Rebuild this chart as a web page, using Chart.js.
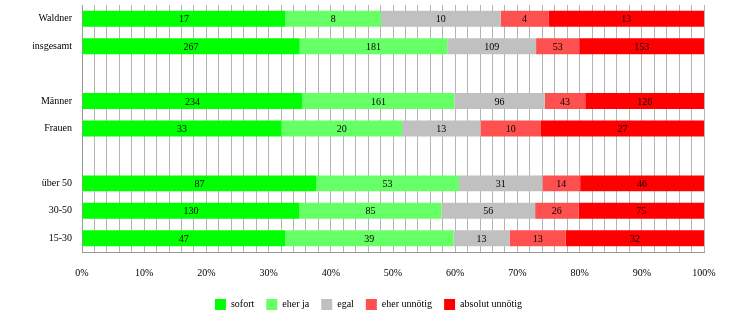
<!DOCTYPE html>
<html>
<head>
<meta charset="utf-8">
<script src="https://cdn.jsdelivr.net/npm/chart.js@4/dist/chart.umd.min.js"></script>
<style>
  html, body { margin: 0; padding: 0; background: #fff; }
  #wrap { width: 733px; height: 335px; }
</style>
</head>
<body>
<div id="wrap"><canvas id="chart"></canvas></div>
<script>
// rows (empty strings are the spacer rows)
const categories = ['Waldner', 'insgesamt', '', 'Männer', 'Frauen', '', 'über 50', '30-50', '15-30'];

// answer counts per row
const sofort          = [17, 267, null, 234, 33, null, 87, 130, 47];
const eherJa          = [8, 181, null, 161, 20, null, 53, 85, 39];
const egal            = [10, 109, null, 96, 13, null, 31, 56, 13];
const eherUnnoetig    = [4, 53, null, 43, 10, null, 14, 26, 13];
const absolutUnnoetig = [13, 153, null, 126, 27, null, 46, 75, 32];

const seriesNames  = ['sofort', 'eher ja', 'egal', 'eher unnötig', 'absolut unnötig'];
const seriesColors = ['#00ff00', '#66ff66', '#c0c0c0', '#ff5050', '#ff0000'];
const series = [sofort, eherJa, egal, eherUnnoetig, absolutUnnoetig];

const FONT = "'Liberation Serif', 'Times New Roman', serif";

// row totals -> percentages for the 100% stack
const totals = categories.map((_, i) => series.reduce((s, arr) => s + (arr[i] || 0), 0));
const pct = arr => arr.map((v, i) => v == null ? null : v / totals[i] * 100);

const countLabels = {
  id: 'countLabels',
  afterDatasetsDraw(chart) {
    const ctx = chart.ctx;
    ctx.save();
    ctx.font = '10px ' + FONT;
    ctx.fillStyle = '#000';
    ctx.textAlign = 'center';
    ctx.textBaseline = 'middle';
    chart.data.datasets.forEach((ds, di) => {
      const meta = chart.getDatasetMeta(di);
      meta.data.forEach((bar, i) => {
        const raw = ds.counts[i];
        if (raw == null) return;
        ctx.fillText(String(raw), (bar.x + bar.base) / 2, bar.y + 1);
      });
    });
    ctx.restore();
  }
};

new Chart(document.getElementById('chart'), {
  type: 'bar',
  data: {
    labels: categories,
    datasets: series.map((arr, k) => ({
      label: seriesNames[k],
      data: pct(arr),
      counts: arr,
      backgroundColor: seriesColors[k],
      borderWidth: 0,
      barPercentage: 0.58,
      categoryPercentage: 1,
    })),
  },
  options: {
    indexAxis: 'y',
    responsive: true,
    maintainAspectRatio: false,
    animation: false,
    layout: { padding: { top: 5, right: 29, bottom: 15, left: 33 } },
    scales: {
      x: {
        stacked: true,
        min: 0,
        max: 100,
        border: { color: '#999' },
        grid: { color: '#b4b4b4', drawTicks: false },
        ticks: {
          stepSize: 2,
          autoSkip: false,
          maxRotation: 0,
          padding: 15,
          color: '#000',
          font: { family: FONT, size: 10 },
          callback: v => v % 10 === 0 ? v + '%' : '',
        },
        afterFit: s => { s.height = 35; },
      },
      y: {
        stacked: true,
        border: { color: '#999' },
        grid: { display: false, drawTicks: false },
        ticks: {
          padding: 10,
          color: '#000',
          font: { family: FONT, size: 10 },
        },
        afterFit: s => { s.width = 49; s.paddingTop = 0; s.paddingBottom = 0; },
      },
    },
    plugins: {
      legend: {
        position: 'bottom',
        labels: {
          boxWidth: 11,
          boxHeight: 11,
          padding: 12,
          color: '#000',
          font: { family: FONT, size: 10 },
        },
      },
      tooltip: { enabled: false },
    },
  },
  plugins: [countLabels],
});
</script>
</body>
</html>
